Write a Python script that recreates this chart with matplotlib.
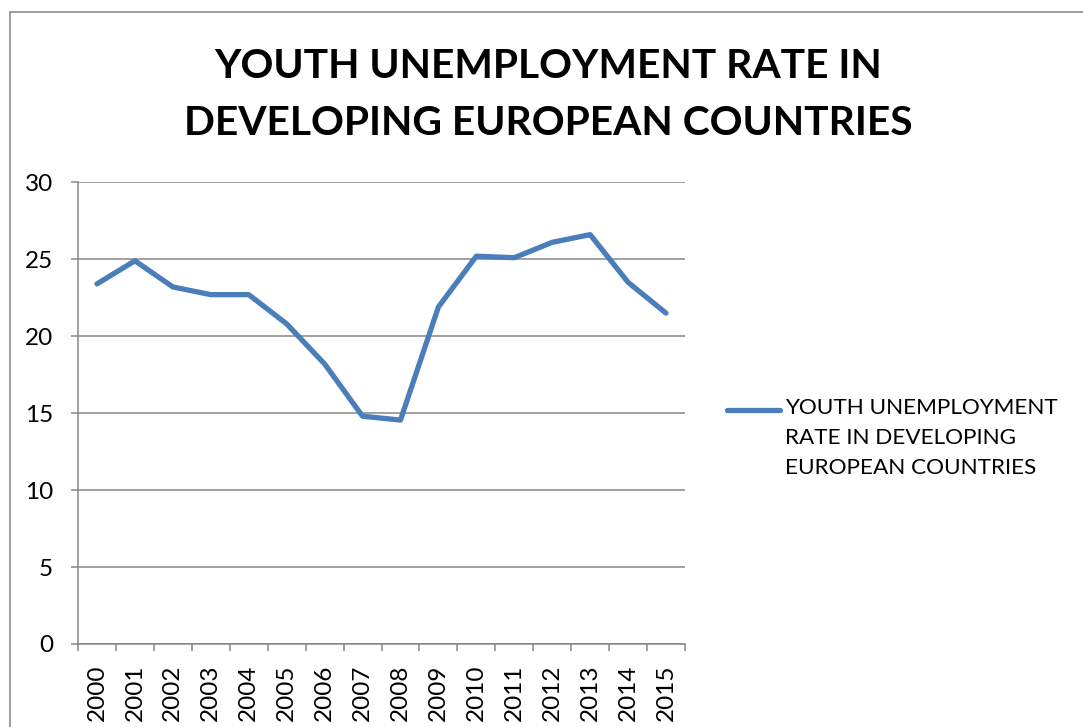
import matplotlib.pyplot as plt
from matplotlib.lines import Line2D
from matplotlib.patches import Rectangle
import numpy as np

plt.rcParams['font.family'] = ['Lato', 'DejaVu Sans']

years = ['2000', '2001', '2002', '2003', '2004', '2005', '2006', '2007',
         '2008', '2009', '2010', '2011', '2012', '2013', '2014', '2015']
rate = [23.4, 24.9, 23.2, 22.7, 22.7, 20.8, 18.2, 14.8,
        14.55, 21.9, 25.2, 25.1, 26.1, 26.6, 23.5, 21.5]

title_1 = 'YOUTH UNEMPLOYMENT RATE IN'
title_2 = 'DEVELOPING EUROPEAN COUNTRIES'
series_label = 'YOUTH UNEMPLOYMENT\nRATE IN DEVELOPING\nEUROPEAN COUNTRIES'

line_col = '#4A7EBB'
grid_col = '#868686'

W, H = 1083, 727
fig = plt.figure(figsize=(W / 100, H / 100), dpi=100)
ax = fig.add_axes([78 / W, 1 - 644 / H, (685 - 78) / W, (644 - 182.3) / H])

x = np.arange(len(years))
ax.plot(x, rate, color=line_col, lw=3.8, solid_capstyle='round',
        solid_joinstyle='round', zorder=3)

ax.set_xlim(-0.5, len(years) - 0.5)
ax.set_ylim(0, 30)
ax.set_yticks(range(0, 31, 5))
ax.set_xticks(x)
ax.set_xticklabels(years, rotation=90)
ax.set_xticks(np.arange(-0.5, len(years)), minor=True)

ax.grid(axis='y', color=grid_col, lw=1.1)
ax.set_axisbelow(True)
for side in ['top', 'right']:
    ax.spines[side].set_visible(False)
for side in ['left', 'bottom']:
    ax.spines[side].set_color(grid_col)
    ax.spines[side].set_linewidth(1.1)

ax.tick_params(axis='y', length=5, width=1.1, color=grid_col, pad=13,
               labelsize=17.5)
ax.tick_params(axis='x', which='major', length=0, pad=15, labelsize=17.5)
ax.tick_params(axis='x', which='minor', length=5, width=1.1, color=grid_col)

# title
fig.text(548 / W, 1 - 78 / H, title_1, ha='center', va='baseline',
         fontsize=29.3, fontweight='bold')
fig.text(548 / W, 1 - 135 / H, title_2, ha='center', va='baseline',
         fontsize=29.3, fontweight='bold')

# legend entry, marker aligned with first line of text
fig.add_artist(Line2D([727 / W, 780 / W], [1 - 410 / H, 1 - 410 / H],
                      color=line_col, lw=3.8, solid_capstyle='round'))
fig.text(785 / W, 1 - 398 / H, series_label, ha='left', va='top',
         fontsize=16.2, linespacing=1.62)

# chart area border
fig.add_artist(Rectangle((10 / W, -0.1), 1.2, 1.1 - 12 / H,
                         transform=fig.transFigure, fill=False,
                         edgecolor='#8c8c8c', lw=1.2))

fig.savefig('out.png', dpi=100)
